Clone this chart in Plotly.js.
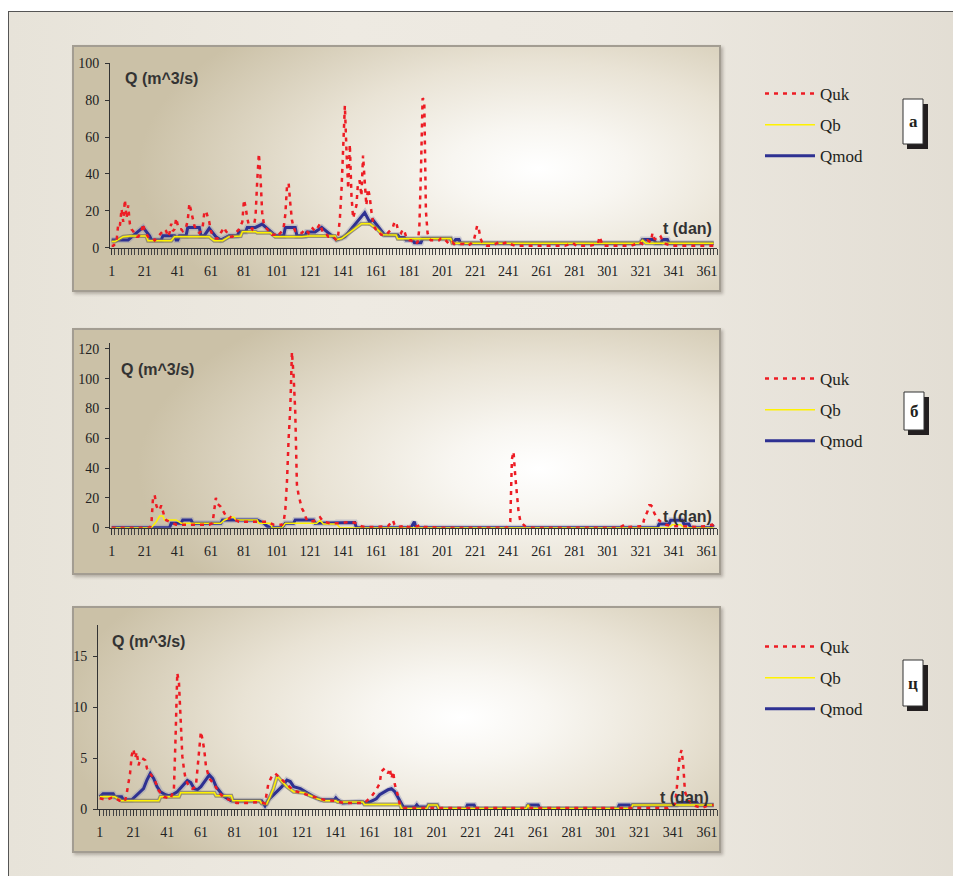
<!DOCTYPE html>
<html><head><meta charset="utf-8">
<script src="https://cdn.plot.ly/plotly-3.0.1.min.js"></script>
<style>
html,body{margin:0;padding:0;background:#fff;width:953px;height:876px;overflow:hidden;position:relative;}
#frame{position:absolute;left:8px;top:11px;width:970px;height:890px;border-left:1px solid #555;border-top:1px solid #555;
 background:linear-gradient(90deg,#e7e3d9 0%,#eeeae2 35%,#ece8e0 65%,#e2ddd3 100%);}
.panel{position:absolute;left:72px;width:645px;height:243px;border:2px solid #a39d92;box-shadow:2px 2px 3px rgba(60,50,40,0.3);}
#pa{top:45px;background:radial-gradient(ellipse 62% 80% at 72% 50%,#ffffff 0%,#f8f6f1 22%,#e9e3d5 55%,#cbc1a7 100%);}
#pb{top:328px;background:radial-gradient(ellipse 62% 80% at 72% 57%,#ffffff 0%,#f8f6f1 22%,#e9e3d5 55%,#cbc1a7 100%);}
#pc{top:606px;background:radial-gradient(ellipse 62% 80% at 60% 45%,#ffffff 0%,#f8f6f1 22%,#e9e3d5 55%,#cbc1a7 100%);}
#plot{position:absolute;left:0;top:0;width:953px;height:876px;}
</style></head>
<body>
<div id="frame"></div>
<div class="panel" id="pa"></div>
<div class="panel" id="pb"></div>
<div class="panel" id="pc"></div>
<div id="plot"></div>
<script>
// ---------------- DATA (day, discharge m^3/s) ----------------
// Panel a
const dayQukA = [1,2,3,4,5,6,7,8,9,10,11,12,13,14,15,16,17,18,19,20,
21,22,23,24,25,26,27,28,29,30,31,32,33,34,35,36,37,38,39,40,
41,42,43,44,45,46,47,48,49,50,51,52,53,54,55,56,57,58,59,60,
61,62,63,64,65,66,67,68,69,70,71,72,73,74,75,76,77,78,79,80,
81,82,83,84,85,86,87,88,89,90,91,92,93,94,95,96,97,98,99,100,
101,102,103,104,105,106,107,108,109,110,111,112,113,114,115,116,117,118,119,120,
121,122,123,124,125,126,127,128,129,130,131,132,133,134,135,136,137,138,139,140,
141,142,143,144,145,146,147,148,149,150,151,152,153,154,155,156,157,158,159,160,
161,162,163,164,165,166,167,168,169,170,171,172,173,174,175,176,177,178,179,180,
181,182,183,184,185,186,187,188,189,190,191,192,193,194,195,196,197,198,199,200,
201,202,203,204,205,206,207,208,209,210,212,214,216,218,220,221,222,223,224,225,
226,228,230,233,235,237,240,242,245,250,255,260,265,270,275,280,282,290,295,296,
297,298,305,310,315,318,320,322,325,327,328,329,331,333,334,336,340,345,350,355,360,365];
const qukA = [1,1,2,4,13,12,21,14,26,16,23,13,10,9,7,6,6,7,9,13,
9,7,6,5,5,5,4,5,6,7,8,9,10,9,6,8,13,9,10,16,
12,10,10,9,10,11,15,24,20,16,12,10,9,8,9,11,19,20,17,14,
9,7,6,5,5,6,8,10,11,9,8,6,6,6,7,8,9,10,12,14,
26,22,16,12,11,10,12,17,36,51,38,19,13,11,10,9,8,7,7,7,
6,7,8,9,11,18,33,35,24,15,11,9,9,8,8,8,9,10,9,8,
10,11,10,9,10,12,13,10,8,7,7,6,6,6,6,5,4,7,16,32,
58,77,52,32,56,28,16,20,23,36,36,28,50,36,23,32,28,20,14,11,
9,8,8,7,7,7,7,8,9,10,11,14,14,10,9,8,10,9,6,5,
4,4,3,3,2,3,10,41,81,80,20,8,5,4,4,4,4,4,4,5,
5,5,4,3,2,2,3,2,2,2,2,2,1,2,4,9,12,10,5,3,
2,1,1,2,3,2,3,2,1,1,1,1,1,1,1,2.5,1,1,2,6,
3,1,1,1,1,2,3,2,4,3,8,5,4,6,4,2,1,1,1,1,1,1];
const dayQbA = [1,3,8,12,22,23,37,39,60,61,63,68,72,79,80,88,89,97,99,100,116,120,136,137,140,152,157,161,165,173,174,188,189,206,207,320,322,324,365];
const qbA    = [3.3,3.3,6,6.3,6.3,3.8,3.8,6,6,5,3.8,3.8,6,6.3,8.7,8.7,8.1,8.1,6.3,6,6,6.3,6.3,4.4,5,13,13,10.5,7,6.9,4.8,4.8,5,5,2.4,2.4,4,2.4,2.4];
const dayQmodA = [1,11,14,20,24,25,31,32,39,40,41,42,46,47,54,55,57,60,64,67,72,77,78,82,83,88,92,96,100,105,106,112,113,118,119,124,128,137,142,154,157,159,161,166,174,175,178,179,183,184,188,189,206,207,208,209,211,212,321,322,329,330,333,334,337,338,365];
const qmodA    = [4.2,4.2,6.5,11,6.3,4.2,4.2,6.5,6.5,4.2,4.2,6.5,6.5,11,11,6.5,6.5,10.5,6,4.2,6.5,6.5,8.7,8.7,11,11,12.8,9.6,6.5,6.5,11,11,6.5,6.5,8.5,8.5,11,4.3,6,19,14,15,12.5,6.9,6.9,5.5,5.5,4.2,4.2,2.7,2.7,5,5,3.2,3.2,4.5,4.5,2.4,2.4,4.5,4.5,2.4,2.4,4.5,4.5,2.4,2.4];

// Panel б
const dayQukB = [1,24,25,26,27,28,29,30,31,32,33,34,36,38,40,45,50,55,60,62,63,64,65,66,67,68,69,70,71,72,73,74,76,78,85,90,95,97,99,104,
105,106,107,108,109,110,111,112,113,114,115,116,117,118,119,121,125,127,129,133,140,145,149,152,154,160,168,171,172,174,177,178,180,186,188,190,200,240,
242,243,244,245,246,247,248,249,251,255,308,311,313,322,323,325,326,327,328,329,331,333,336,340,345,350,355,360,364,365];
const qukB = [0,0,2,20,22,15,12,12,15,11,7,5,4,3,2,2,2,2,2,3,10,20,16,15,14,12,10,8,6,6,7,6,5,4,4,4,4,3,2,2,
4,12,31,60,80,118,102,78,29,22,17,13,11,8,5,4,5,7,4,3,3,4,3,1,0.5,0.5,1,5,2,0.5,1,2,0.5,1,2,0.5,0,0,
4,46,51,35,20,11,5,3,1,0,0,2,0.5,1,6,11,15,15,14,10,6,4,2,1,1,0.5,0.5,1,2,1];
const dayQbB = [1,25,28,30,32,33,40,43,67,69,73,75,76,89,90,97,98,104,106,125,127,129,137,139,338,340,345,347,365];
const qbB    = [0,0,4,7.8,7.8,5.2,5.2,3,3,5,7,7,5.2,5.2,3,3,0,0,3,3,5,2.5,2.5,0,0,2,2,0,0];
const dayQmodB = [1,36,37,43,44,49,50,67,68,89,93,95,97,104,106,111,112,123,124,136,137,148,149,182,184,185,331,332,338,339,346,347,350,351,363,365];
const qmodB    = [0,0,3,3,5.2,5.2,3,3,5.2,5.2,3,1,0,0,3,3,5.2,5.2,3,3,3.5,3.5,0,0,4,0,0,2.5,2.5,5,5,2.5,2.5,0,0,2];

// Panel ц
const dayQukC = [1,3,5,8,11,14,16,17,18,19,20,21,22,23,24,25,26,27,28,29,31,34,36,39,43,45,46,47,48,49,50,51,52,54,56,58,59,60,61,62,63,64,66,69,72,75,78,82,90,96,
99,100,101,103,105,107,109,112,116,122,128,134,140,146,152,158,162,165,167,168,170,172,173,174,175,176,178,179,181,200,250,300,338,342,343,344,345,346,347,348,350,354,358,361,364,365];
const qukC = [1.05,1,0.9,1.1,1,0.7,0.8,1.5,2.5,3.5,5.3,5.9,5,5.6,4.3,4.8,5,4.9,4.8,4,3.5,2.7,1.8,1.2,1,1.9,7.1,13.4,12.4,9.1,5.2,3.85,2.9,2.2,2,2.2,3.85,5.8,7.6,6.8,5.8,4.2,3,2.4,1.55,1.1,0.9,0.6,0.6,0.7,
0.55,1.4,2.5,3.2,3.5,3.2,2.9,2.4,1.8,1.5,1.2,0.9,0.8,0.6,0.6,0.6,1.2,1.9,2.5,3.7,4,3.5,4,3,3.7,2.4,1.2,0.4,0.1,0.1,0.05,0.1,0.1,0.5,1.7,3.7,5.3,5.8,4.3,1.7,0.8,0.3,0.1,0.3,0.4,0.4];
const dayQbC = [1,10,14,36,37,48,49,69,70,79,80,96,97,100,102,104,106,107,109,112,116,122,126,130,134,141,142,157,158,179,180,195,196,201,202,254,255,256,316,317,365];
const qbC    = [1.2,1.2,0.8,0.8,1.2,1.2,1.6,1.6,1.3,1.3,0.8,0.8,0.55,0.5,1.2,2,3.1,3.1,2.7,2.2,1.7,1.6,1.3,1,0.8,0.8,0.7,0.7,0.45,0.45,0.05,0.05,0.4,0.4,0.05,0.05,0.4,0.05,0.05,0.4,0.4];
const dayQmodC = [1,3,9,10,14,15,20,27,29,31,33,35,37,40,42,44,47,50,53,55,57,59,61,64,66,68,70,73,75,79,97,98,99,101,103,106,109,112,114,116,118,120,124,128,132,140,141,142,145,155,160,163,165,167,170,172,174,176,178,180,181,188,189,190,195,196,201,202,218,219,223,224,254,255,261,262,308,309,315,316,317,343,344,355,356,365];
const qmodC    = [1.2,1.5,1.5,1.2,1.2,0.9,0.9,2,2.85,3.5,3,2.2,1.7,1.4,1.3,1.4,1.7,2.2,2.8,2.6,2,1.9,2.2,2.9,3.35,3,2.2,1.55,1.2,0.8,0.8,0.55,0.3,0.9,1.2,1.7,2.2,2.85,2.7,2.2,2.1,2,1.6,1.2,0.9,0.9,1.1,0.9,0.6,0.7,0.6,0.8,1,1.4,1.7,1.9,2,1.7,1.1,0.4,0.2,0.2,0.4,0.2,0.2,0.4,0.4,0,0,0.4,0.4,0,0,0.4,0.4,0,0,0.4,0.4,0.05,0.4,0.4,0.65,0.65,0.4,0.4];

const xTickStart = 1, xTickStep = 20;
const yTicksA = [0,20,40,60,80,100];
const yTicksB = [0,20,40,60,80,100,120];
const yTicksC = [0,5,10,15];
const seriesNames = ['Quk','Qb','Qmod'];
const panelLabels = ['a','б','ц'];
const yTitle = 'Q (m^3/s)';
const xTitle = 't (dan)';

// ---------------- FIGURE ----------------
const W = 953, H = 876;
const fx = p => p / W, fy = p => 1 - p / H;
const SERIF = 'Liberation Serif, Times New Roman, serif';
const SANS = 'Liberation Sans, Arial, sans-serif';

function panel(ax, leg, dK, qK, dB, qB, dM, qM, shadow) {
  const xa = 'x' + ax, ya = 'y' + ax, base = {xaxis: xa, yaxis: ya, type: 'scatter', mode: 'lines', hoverinfo: 'skip'};
  const t = [];
  t.push(Object.assign({}, base, {x: dM, y: qM, showlegend: false, line: {color: 'rgba(140,145,180,0.38)', width: 6}}));
  t.push(Object.assign({}, base, {x: dM, y: qM, name: seriesNames[2], legend: leg, legendgroup: leg + 'm', legendrank: 3, line: {color: '#2e3192', width: 3}}));
  if (shadow) t.push(Object.assign({}, base, {x: dB, y: qB, showlegend: false, line: {color: 'rgba(128,122,95,0.75)', width: 4}}));
  t.push(Object.assign({}, base, {x: dB, y: qB, name: seriesNames[1], legend: leg, legendgroup: leg + 'b', legendrank: 2, line: {color: '#fff200', width: 1.5}}));
  t.push(Object.assign({}, base, {x: dK, y: qK, name: seriesNames[0], legend: leg, legendgroup: leg + 'k', legendrank: 1, line: {color: '#ed1c24', width: 2.5, dash: '4px,5px'}}));
  return t;
}

const data = [].concat(
  panel('', 'legend', dayQukA, qukA, dayQbA, qbA, dayQmodA, qmodA, true),
  panel('2', 'legend2', dayQukB, qukB, dayQbB, qbB, dayQmodB, qmodB, false),
  panel('3', 'legend3', dayQukC, qukC, dayQbC, qbC, dayQmodC, qmodC, true)
);

function xax(d0, d1, anchor) {
  return {domain: [fx(d0), fx(d1)], range: [0, 367], anchor: anchor, tickmode: 'linear', tick0: xTickStart, dtick: xTickStep,
    ticks: 'outside', ticklen: 6, tickcolor: '#333', tickwidth: 1, showline: true, linecolor: '#333', linewidth: 1,
    showgrid: false, zeroline: false, ticklabelstandoff: 4, tickfont: {family: SERIF, size: 14, color: '#222'},
    minor: {tick0: 1, dtick: 2, ticks: 'outside', ticklen: 6, tickcolor: '#444', tickwidth: 1, showgrid: false}};
}
function yax(b, t, range, vals, anchor) {
  return {domain: [fy(b), fy(t)], range: range, anchor: anchor, tickmode: 'array', tickvals: vals,
    ticks: 'outside', ticklen: 4, tickcolor: '#333', showline: true, linecolor: '#333', linewidth: 1,
    showgrid: false, zeroline: false, ticklabelstandoff: 3, tickfont: {family: SERIF, size: 14, color: '#222'}};
}
function legendAt(top) {
  return {x: fx(760), y: fy(top), xanchor: 'left', yanchor: 'top', bgcolor: 'rgba(0,0,0,0)', borderwidth: 0, itemwidth: 50,
    font: {family: SERIF, size: 17, color: '#231f20'}, traceorder: 'grouped', tracegroupgap: 6};
}

const shapes = [], annotations = [];
function labelBox(x0, x1, y0, y1, txt) {
  shapes.push({type: 'rect', xref: 'paper', yref: 'paper', x0: fx(x0 + 4), x1: fx(x1 + 5), y0: fy(y0 + 5), y1: fy(y1 + 5), fillcolor: '#231f20', line: {width: 0}});
  shapes.push({type: 'rect', xref: 'paper', yref: 'paper', x0: fx(x0), x1: fx(x1), y0: fy(y0), y1: fy(y1), fillcolor: '#ffffff', line: {color: '#333', width: 1}});
  annotations.push({xref: 'paper', yref: 'paper', x: fx((x0 + x1) / 2), y: fy((y0 + y1) / 2), text: '<b>' + txt + '</b>', showarrow: false,
    font: {family: SERIF, size: 17, color: '#231f20'}, xanchor: 'center', yanchor: 'middle'});
}
labelBox(903, 923, 99, 144, panelLabels[0]);
labelBox(904, 924, 392, 430, panelLabels[1]);
labelBox(903, 923, 660, 706, panelLabels[2]);

function titles(qx, qy, tx, ty) {
  annotations.push({xref: 'paper', yref: 'paper', x: fx(qx), y: fy(qy), xanchor: 'left', yanchor: 'middle', showarrow: false,
    text: '<b>' + yTitle + '</b>', font: {family: SANS, size: 16, color: '#333'}});
  annotations.push({xref: 'paper', yref: 'paper', x: fx(tx), y: fy(ty), xanchor: 'right', yanchor: 'middle', showarrow: false,
    text: '<b>' + xTitle + '</b>', font: {family: SANS, size: 16, color: '#333'}});
}
titles(123, 79, 714, 229);
titles(119, 369, 714, 516);
titles(110, 641, 711, 797);

const layout = {
  width: W, height: H, margin: {l: 0, r: 0, t: 0, b: 0},
  paper_bgcolor: 'rgba(0,0,0,0)', plot_bgcolor: 'rgba(0,0,0,0)',
  xaxis: xax(110, 717, 'y'), yaxis: yax(247.7, 63.3, [0, 100], yTicksA, 'x'),
  xaxis2: xax(110, 717, 'y2'), yaxis2: yax(527.7, 343, [0, 124], yTicksB, 'x2'),
  xaxis3: xax(98, 717, 'y3'), yaxis3: yax(809, 625, [0, 18.1], yTicksC, 'x3'),
  legend: legendAt(76), legend2: legendAt(361), legend3: legendAt(629),
  shapes: shapes, annotations: annotations, showlegend: true
};
Plotly.newPlot('plot', data, layout, {displayModeBar: false, staticPlot: true});
</script>
</body></html>
